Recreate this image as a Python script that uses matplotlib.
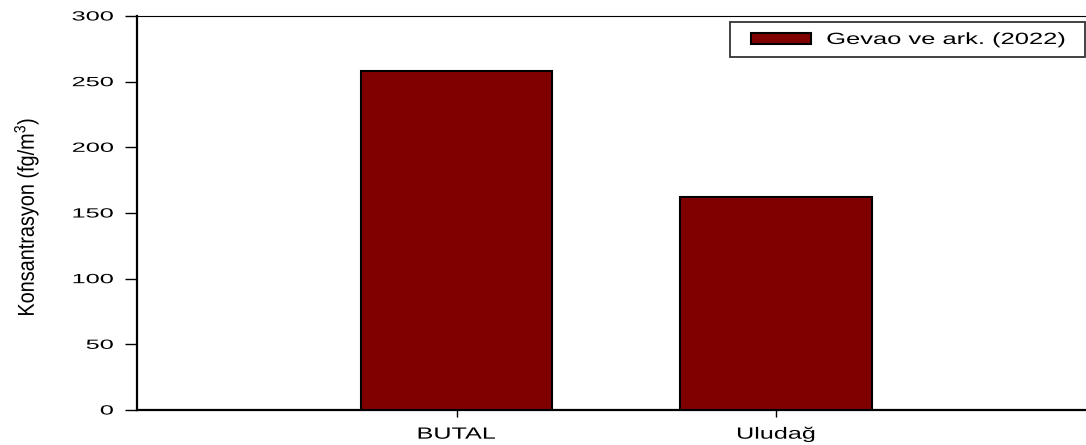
import matplotlib
matplotlib.use("Agg")
import matplotlib.pyplot as plt
from matplotlib import font_manager
from matplotlib.patheffects import AbstractPathEffect
from matplotlib.transforms import Affine2D
from matplotlib.patches import Rectangle
from matplotlib.legend_handler import HandlerPatch, update_from_first_child

# Data
categories = ["BUTAL", "Uludağ"]
values = [258, 162]
series_label = "Gevao ve ark. (2022)"
y_ticks = [0, 50, 100, 150, 200, 250, 300]

bar_color = "#800000"

families = {f.name for f in font_manager.fontManager.ttflist}
base_font = "Liberation Sans" if "Liberation Sans" in families else "DejaVu Sans"
plt.rcParams["font.family"] = [base_font, "DejaVu Sans"]
plt.rcParams["mathtext.fontset"] = "custom"
plt.rcParams["mathtext.rm"] = base_font
plt.rcParams["mathtext.it"] = base_font + ":italic"


class HStretch(AbstractPathEffect):
    """Draw glyphs widened horizontally about a chosen edge of the text."""

    def __init__(self, sx, anchor="center"):
        super().__init__()
        self.sx = sx
        self.anchor = anchor

    def draw_path(self, renderer, gc, tpath, affine, rgbFace=None):
        ext = tpath.get_extents(affine)
        if self.anchor == "right":
            x0 = ext.x1
        elif self.anchor == "left":
            x0 = ext.x0
        else:
            x0 = 0.5 * (ext.x0 + ext.x1)
        t = affine + Affine2D().translate(-x0, 0).scale(self.sx, 1.0).translate(x0, 0)
        renderer.draw_path(gc, tpath, t, rgbFace)


HANDLE_INSET = 7.5  # points of blank space before the legend swatch


def inset_swatch(legend, orig_handle, xdescent, ydescent, width, height, fontsize):
    return Rectangle((-xdescent + HANDLE_INSET, -ydescent), width - HANDLE_INSET, height)


fig = plt.figure(figsize=(10.86, 4.45), dpi=100)
ax = fig.add_axes([137 / 1086, 1 - 410 / 445, 949 / 1086, (410 - 16) / 445])

x = [1, 2]
bars = ax.bar(x, values, width=0.6, color=bar_color, edgecolor="black", linewidth=1.5,
              label=series_label, zorder=3)

ax.set_xlim(0, 2.97)
ax.set_ylim(0, 300)
ax.set_yticks(y_ticks)
ax.set_yticklabels([str(v) for v in y_ticks], fontsize=9.6)
ax.set_xticks(x)
ax.set_xticklabels(categories, fontsize=11.7)

ax.tick_params(axis="y", direction="out", length=9, width=1, pad=8)
ax.tick_params(axis="x", direction="out", length=5, width=1, pad=7)

for lab in ax.get_yticklabels():
    lab.set_path_effects([HStretch(1.9, "right")])
for lab in ax.get_xticklabels():
    lab.set_path_effects([HStretch(1.55, "center")])

ax.spines["right"].set_visible(False)
ax.spines["left"].set_linewidth(1.6)
ax.spines["bottom"].set_linewidth(1.6)
ax.spines["top"].set_linewidth(0.8)

ylab = ax.set_ylabel("Konsantrasyon (fg/m$^3$)", fontsize=14.3)
ylab.set_path_effects([HStretch(1.16, "center")])
ax.yaxis.set_label_coords(-0.1033, 0.49)

swatch_handler = HandlerPatch(patch_func=inset_swatch, update_func=update_from_first_child)
leg = ax.legend(loc="upper right", bbox_to_anchor=(0.625, 0.883, 0.374, 0.102),
                mode="expand", fontsize=11.7, frameon=True, fancybox=False,
                handlelength=4.37, handleheight=0.62, borderpad=0.62,
                handletextpad=0.95, borderaxespad=0,
                handler_map={bars: swatch_handler})
leg.get_frame().set_edgecolor("black")
leg.get_frame().set_linewidth(1.3)
for t in leg.get_texts():
    t.set_path_effects([HStretch(1.57, "left")])

fig.savefig("out.png", dpi=100)
